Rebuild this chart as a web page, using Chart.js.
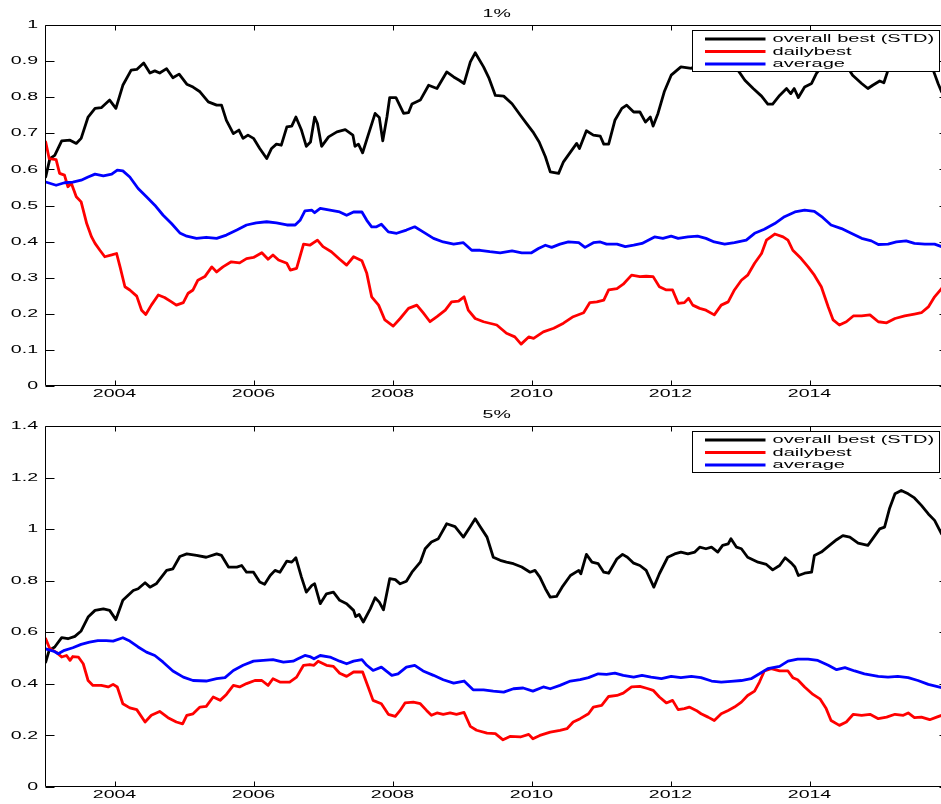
<!DOCTYPE html>
<html>
<head>
<meta charset="utf-8">
<title>Rolling ratios, 1% and 5%</title>
<script src="https://cdn.jsdelivr.net/npm/chart.js@4.4.1/dist/chart.umd.min.js"></script>
<style>
  html, body { margin: 0; padding: 0; background: #ffffff; overflow: hidden; width: 941px; height: 804px; }
  canvas { display: block; }
</style>
</head>
<body>
<canvas id="panel1" width="950" height="400"></canvas>
<canvas id="panel5" width="950" height="404"></canvas>
<script>
// ---- series labels, colours, axis ticks ----
const seriesNames = ['overall best (STD)', 'dailybest', 'average'];
const seriesColors = ['#000000', '#ff0000', '#0000ff'];
const panelTitles = ['1%', '5%'];
const yearTicks = [2004, 2006, 2008, 2010, 2012, 2014];
const yTicks1 = [0, 0.1, 0.2, 0.3, 0.4, 0.5, 0.6, 0.7, 0.8, 0.9, 1];
const yTicks5 = [0, 0.2, 0.4, 0.6, 0.8, 1, 1.2, 1.4];

// ---- 1% panel: [decimal year, value] ----
const best1 = [[2003.01,0.579],[2003.07,0.630],[2003.14,0.639],[2003.24,0.679],[2003.36,0.681],[2003.45,0.672],[2003.52,0.686],[2003.62,0.745],[2003.72,0.769],[2003.81,0.771],[2003.93,0.792],[2004.02,0.769],[2004.12,0.833],[2004.24,0.875],[2004.32,0.877],[2004.42,0.895],[2004.51,0.867],[2004.58,0.873],[2004.65,0.867],[2004.75,0.879],[2004.84,0.854],[2004.93,0.864],[2005.04,0.836],[2005.13,0.828],[2005.23,0.815],[2005.35,0.787],[2005.47,0.778],[2005.54,0.778],[2005.61,0.736],[2005.71,0.699],[2005.79,0.709],[2005.85,0.686],[2005.92,0.695],[2006.00,0.686],[2006.09,0.658],[2006.19,0.630],[2006.26,0.658],[2006.33,0.670],[2006.40,0.667],[2006.48,0.718],[2006.55,0.720],[2006.61,0.745],[2006.69,0.709],[2006.76,0.664],[2006.82,0.676],[2006.88,0.745],[2006.92,0.727],[2006.98,0.664],[2007.08,0.690],[2007.20,0.704],[2007.32,0.710],[2007.43,0.695],[2007.46,0.664],[2007.51,0.670],[2007.57,0.646],[2007.65,0.695],[2007.75,0.755],[2007.81,0.744],[2007.86,0.679],[2007.92,0.745],[2007.96,0.799],[2008.05,0.799],[2008.16,0.755],[2008.23,0.757],[2008.28,0.781],[2008.40,0.792],[2008.52,0.833],[2008.64,0.824],[2008.78,0.870],[2008.88,0.856],[2008.96,0.847],[2009.03,0.838],[2009.12,0.898],[2009.19,0.923],[2009.31,0.884],[2009.39,0.852],[2009.48,0.805],[2009.60,0.803],[2009.72,0.782],[2009.84,0.750],[2009.93,0.727],[2010.02,0.704],[2010.11,0.676],[2010.20,0.635],[2010.27,0.593],[2010.39,0.589],[2010.46,0.621],[2010.56,0.648],[2010.65,0.672],[2010.69,0.658],[2010.79,0.707],[2010.89,0.695],[2010.99,0.692],[2011.04,0.670],[2011.11,0.670],[2011.20,0.736],[2011.30,0.769],[2011.37,0.778],[2011.47,0.759],[2011.56,0.759],[2011.64,0.731],[2011.71,0.745],[2011.75,0.720],[2011.82,0.755],[2011.91,0.815],[2012.01,0.861],[2012.15,0.884],[2012.30,0.880],[2012.45,0.895],[2012.60,0.900],[2012.75,0.895],[2012.97,0.875],[2013.07,0.847],[2013.19,0.824],[2013.31,0.803],[2013.40,0.781],[2013.47,0.781],[2013.57,0.805],[2013.67,0.824],[2013.73,0.810],[2013.78,0.824],[2013.84,0.799],[2013.93,0.828],[2014.03,0.838],[2014.10,0.866],[2014.20,0.890],[2014.35,0.900],[2014.50,0.890],[2014.59,0.870],[2014.62,0.861],[2014.75,0.838],[2014.84,0.824],[2014.91,0.833],[2015.01,0.845],[2015.07,0.840],[2015.13,0.875],[2015.30,0.900],[2015.50,0.910],[2015.70,0.895],[2015.78,0.875],[2015.85,0.838],[2015.90,0.815],[2015.97,0.800]];

const daily1 = [[2003.01,0.676],[2003.06,0.630],[2003.16,0.627],[2003.21,0.589],[2003.28,0.584],[2003.33,0.552],[2003.38,0.561],[2003.45,0.524],[2003.52,0.510],[2003.60,0.450],[2003.67,0.413],[2003.72,0.395],[2003.79,0.376],[2003.86,0.358],[2003.96,0.363],[2004.03,0.367],[2004.08,0.330],[2004.15,0.275],[2004.22,0.266],[2004.32,0.249],[2004.39,0.210],[2004.45,0.198],[2004.53,0.224],[2004.63,0.252],[2004.72,0.245],[2004.82,0.233],[2004.89,0.224],[2004.99,0.231],[2005.06,0.257],[2005.13,0.266],[2005.20,0.293],[2005.30,0.303],[2005.40,0.330],[2005.47,0.316],[2005.56,0.330],[2005.68,0.344],[2005.80,0.341],[2005.90,0.353],[2006.00,0.356],[2006.12,0.369],[2006.21,0.351],[2006.28,0.363],[2006.36,0.349],[2006.48,0.340],[2006.53,0.321],[2006.62,0.326],[2006.72,0.393],[2006.81,0.390],[2006.92,0.404],[2007.00,0.386],[2007.12,0.372],[2007.24,0.351],[2007.34,0.335],[2007.44,0.358],[2007.56,0.347],[2007.63,0.312],[2007.70,0.247],[2007.80,0.224],[2007.89,0.183],[2008.01,0.166],[2008.11,0.187],[2008.23,0.215],[2008.35,0.224],[2008.44,0.203],[2008.54,0.178],[2008.64,0.192],[2008.76,0.210],[2008.85,0.233],[2008.95,0.235],[2009.03,0.247],[2009.09,0.210],[2009.19,0.187],[2009.31,0.178],[2009.50,0.169],[2009.64,0.146],[2009.76,0.136],[2009.85,0.116],[2009.96,0.136],[2010.03,0.132],[2010.17,0.150],[2010.32,0.160],[2010.46,0.174],[2010.60,0.192],[2010.75,0.203],[2010.84,0.231],[2010.94,0.233],[2011.04,0.238],[2011.11,0.266],[2011.23,0.270],[2011.32,0.282],[2011.44,0.307],[2011.56,0.303],[2011.65,0.304],[2011.75,0.303],[2011.84,0.275],[2011.94,0.266],[2012.03,0.266],[2012.11,0.229],[2012.20,0.231],[2012.26,0.243],[2012.32,0.224],[2012.42,0.215],[2012.51,0.210],[2012.63,0.197],[2012.73,0.224],[2012.83,0.233],[2012.92,0.266],[2013.02,0.293],[2013.11,0.307],[2013.21,0.340],[2013.31,0.367],[2013.38,0.404],[2013.50,0.421],[2013.62,0.413],[2013.69,0.404],[2013.76,0.376],[2013.88,0.353],[2013.98,0.330],[2014.07,0.307],[2014.17,0.275],[2014.27,0.219],[2014.34,0.183],[2014.43,0.169],[2014.53,0.178],[2014.63,0.194],[2014.75,0.194],[2014.87,0.197],[2014.99,0.178],[2015.11,0.175],[2015.23,0.187],[2015.37,0.194],[2015.51,0.199],[2015.61,0.203],[2015.71,0.219],[2015.80,0.247],[2015.90,0.270],[2015.97,0.285]];

const avg1 = [[2003.01,0.565],[2003.16,0.556],[2003.28,0.563],[2003.40,0.565],[2003.52,0.570],[2003.62,0.579],[2003.72,0.587],[2003.84,0.582],[2003.96,0.587],[2004.04,0.598],[2004.12,0.596],[2004.22,0.579],[2004.34,0.547],[2004.46,0.524],[2004.58,0.501],[2004.70,0.473],[2004.82,0.450],[2004.94,0.424],[2005.04,0.415],[2005.18,0.409],[2005.32,0.412],[2005.47,0.409],[2005.61,0.418],[2005.76,0.432],[2005.90,0.446],[2006.04,0.452],[2006.19,0.455],[2006.33,0.452],[2006.48,0.446],[2006.60,0.446],[2006.67,0.459],[2006.74,0.485],[2006.84,0.487],[2006.88,0.480],[2006.96,0.492],[2007.10,0.487],[2007.24,0.482],[2007.34,0.473],[2007.44,0.482],[2007.56,0.482],[2007.63,0.459],[2007.70,0.441],[2007.77,0.441],[2007.84,0.448],[2007.94,0.427],[2008.06,0.423],[2008.20,0.432],[2008.32,0.441],[2008.44,0.427],[2008.59,0.409],[2008.73,0.399],[2008.88,0.393],[2009.02,0.397],[2009.14,0.376],[2009.26,0.376],[2009.40,0.372],[2009.55,0.369],[2009.72,0.374],[2009.86,0.369],[2010.00,0.369],[2010.10,0.381],[2010.20,0.390],[2010.29,0.384],[2010.41,0.393],[2010.53,0.399],[2010.68,0.397],[2010.77,0.384],[2010.89,0.397],[2010.99,0.399],[2011.08,0.393],[2011.23,0.393],[2011.35,0.386],[2011.47,0.390],[2011.59,0.395],[2011.77,0.413],[2011.89,0.409],[2012.01,0.415],[2012.11,0.409],[2012.25,0.413],[2012.39,0.415],[2012.51,0.409],[2012.63,0.399],[2012.78,0.393],[2012.92,0.397],[2013.09,0.404],[2013.21,0.423],[2013.35,0.434],[2013.50,0.450],[2013.64,0.469],[2013.79,0.482],[2013.93,0.487],[2014.07,0.484],[2014.19,0.467],[2014.31,0.446],[2014.46,0.436],[2014.60,0.423],[2014.75,0.409],[2014.89,0.402],[2014.99,0.392],[2015.13,0.393],[2015.25,0.399],[2015.39,0.402],[2015.51,0.395],[2015.66,0.393],[2015.80,0.393],[2015.90,0.386],[2015.97,0.385]];

// ---- 5% panel: [decimal year, value] ----
const best5 = [[2003.01,0.484],[2003.06,0.530],[2003.14,0.543],[2003.24,0.579],[2003.33,0.575],[2003.43,0.584],[2003.52,0.605],[2003.62,0.659],[2003.72,0.685],[2003.84,0.691],[2003.93,0.685],[2004.02,0.649],[2004.12,0.724],[2004.27,0.762],[2004.34,0.769],[2004.44,0.792],[2004.51,0.775],[2004.60,0.788],[2004.75,0.840],[2004.84,0.846],[2004.94,0.894],[2005.04,0.904],[2005.18,0.898],[2005.32,0.891],[2005.47,0.904],[2005.54,0.898],[2005.64,0.853],[2005.76,0.853],[2005.83,0.859],[2005.90,0.833],[2006.00,0.833],[2006.09,0.795],[2006.16,0.786],[2006.24,0.820],[2006.31,0.840],[2006.38,0.833],[2006.48,0.876],[2006.55,0.872],[2006.61,0.889],[2006.69,0.814],[2006.76,0.756],[2006.84,0.782],[2006.88,0.788],[2006.96,0.711],[2007.05,0.749],[2007.15,0.756],[2007.24,0.724],[2007.34,0.711],[2007.44,0.685],[2007.47,0.661],[2007.52,0.669],[2007.58,0.640],[2007.68,0.691],[2007.75,0.734],[2007.81,0.717],[2007.87,0.687],[2007.96,0.808],[2008.04,0.804],[2008.11,0.788],[2008.20,0.798],[2008.28,0.833],[2008.40,0.872],[2008.47,0.924],[2008.56,0.950],[2008.66,0.963],[2008.78,1.021],[2008.90,1.010],[2009.02,0.969],[2009.12,1.010],[2009.19,1.040],[2009.26,1.010],[2009.36,0.969],[2009.45,0.891],[2009.55,0.879],[2009.64,0.872],[2009.74,0.866],[2009.86,0.853],[2009.98,0.833],[2010.05,0.840],[2010.12,0.814],[2010.20,0.769],[2010.27,0.736],[2010.36,0.739],[2010.44,0.775],[2010.56,0.820],[2010.68,0.840],[2010.71,0.827],[2010.79,0.902],[2010.87,0.872],[2010.96,0.866],[2011.04,0.833],[2011.11,0.829],[2011.23,0.885],[2011.31,0.902],[2011.38,0.891],[2011.47,0.868],[2011.56,0.859],[2011.65,0.840],[2011.76,0.775],[2011.84,0.827],[2011.96,0.891],[2012.06,0.904],[2012.15,0.911],[2012.25,0.904],[2012.35,0.911],[2012.42,0.930],[2012.51,0.924],[2012.59,0.930],[2012.68,0.911],[2012.75,0.937],[2012.83,0.943],[2012.87,0.963],[2012.95,0.930],[2013.02,0.924],[2013.11,0.891],[2013.26,0.872],[2013.38,0.863],[2013.47,0.842],[2013.57,0.859],[2013.65,0.889],[2013.74,0.868],[2013.79,0.853],[2013.84,0.820],[2013.93,0.829],[2014.03,0.833],[2014.07,0.898],[2014.17,0.911],[2014.27,0.933],[2014.39,0.959],[2014.48,0.975],[2014.58,0.969],[2014.70,0.946],[2014.84,0.937],[2014.91,0.963],[2015.01,1.001],[2015.08,1.008],[2015.15,1.079],[2015.23,1.137],[2015.32,1.150],[2015.42,1.137],[2015.51,1.121],[2015.61,1.092],[2015.71,1.059],[2015.80,1.034],[2015.90,0.982],[2015.97,0.960]];

const daily5 = [[2003.01,0.575],[2003.07,0.536],[2003.16,0.523],[2003.24,0.504],[2003.31,0.510],[2003.36,0.491],[2003.40,0.506],[2003.48,0.504],[2003.55,0.478],[2003.62,0.413],[2003.69,0.394],[2003.81,0.394],[2003.91,0.388],[2003.98,0.398],[2004.04,0.388],[2004.12,0.323],[2004.22,0.307],[2004.32,0.300],[2004.44,0.252],[2004.53,0.278],[2004.65,0.293],[2004.77,0.269],[2004.89,0.252],[2004.98,0.245],[2005.04,0.278],[2005.13,0.284],[2005.23,0.310],[2005.32,0.313],[2005.42,0.349],[2005.52,0.336],[2005.61,0.359],[2005.71,0.394],[2005.80,0.388],[2005.90,0.401],[2006.02,0.413],[2006.12,0.413],[2006.21,0.394],[2006.28,0.420],[2006.38,0.407],[2006.52,0.407],[2006.62,0.426],[2006.72,0.472],[2006.81,0.475],[2006.87,0.472],[2006.93,0.488],[2007.05,0.472],[2007.15,0.468],[2007.24,0.441],[2007.34,0.429],[2007.44,0.446],[2007.57,0.446],[2007.65,0.388],[2007.72,0.336],[2007.84,0.323],[2007.94,0.282],[2008.04,0.274],[2008.11,0.297],[2008.18,0.326],[2008.30,0.329],[2008.40,0.323],[2008.49,0.297],[2008.56,0.278],[2008.64,0.287],[2008.73,0.282],[2008.83,0.287],[2008.92,0.282],[2009.03,0.289],[2009.12,0.235],[2009.21,0.220],[2009.36,0.209],[2009.48,0.207],[2009.59,0.183],[2009.69,0.196],[2009.84,0.194],[2009.96,0.204],[2010.02,0.187],[2010.12,0.200],[2010.27,0.213],[2010.41,0.220],[2010.51,0.226],[2010.60,0.252],[2010.70,0.265],[2010.82,0.284],[2010.89,0.310],[2011.01,0.317],[2011.11,0.351],[2011.23,0.355],[2011.32,0.364],[2011.44,0.388],[2011.56,0.390],[2011.68,0.381],[2011.75,0.375],[2011.84,0.349],[2011.94,0.326],[2012.03,0.336],[2012.11,0.300],[2012.20,0.304],[2012.27,0.310],[2012.37,0.297],[2012.44,0.284],[2012.54,0.271],[2012.63,0.258],[2012.73,0.284],[2012.83,0.297],[2012.92,0.310],[2013.02,0.329],[2013.11,0.355],[2013.21,0.372],[2013.28,0.407],[2013.35,0.450],[2013.45,0.459],[2013.57,0.450],[2013.69,0.450],[2013.76,0.424],[2013.83,0.416],[2013.93,0.388],[2014.05,0.359],[2014.15,0.342],[2014.24,0.304],[2014.31,0.258],[2014.43,0.239],[2014.53,0.252],[2014.63,0.282],[2014.75,0.278],[2014.87,0.282],[2014.99,0.265],[2015.11,0.271],[2015.23,0.282],[2015.35,0.278],[2015.42,0.287],[2015.51,0.269],[2015.61,0.271],[2015.73,0.261],[2015.83,0.271],[2015.90,0.278],[2015.97,0.280]];

const avg5 = [[2003.01,0.536],[2003.12,0.527],[2003.19,0.517],[2003.28,0.530],[2003.40,0.540],[2003.52,0.553],[2003.64,0.562],[2003.76,0.568],[2003.88,0.568],[2003.98,0.566],[2004.12,0.579],[2004.22,0.566],[2004.34,0.543],[2004.46,0.523],[2004.58,0.510],[2004.70,0.484],[2004.84,0.450],[2004.99,0.426],[2005.13,0.413],[2005.32,0.411],[2005.47,0.420],[2005.59,0.424],[2005.71,0.452],[2005.85,0.472],[2006.00,0.488],[2006.14,0.491],[2006.28,0.494],[2006.43,0.484],[2006.57,0.488],[2006.64,0.497],[2006.74,0.510],[2006.81,0.506],[2006.87,0.497],[2006.96,0.510],[2007.10,0.504],[2007.24,0.488],[2007.34,0.478],[2007.44,0.488],[2007.56,0.494],[2007.63,0.472],[2007.72,0.452],[2007.84,0.465],[2007.99,0.433],[2008.08,0.439],[2008.20,0.465],[2008.32,0.472],[2008.44,0.450],[2008.59,0.433],[2008.73,0.416],[2008.88,0.403],[2009.03,0.411],[2009.16,0.377],[2009.31,0.377],[2009.45,0.372],[2009.60,0.368],[2009.74,0.381],[2009.88,0.384],[2010.02,0.372],[2010.17,0.388],[2010.27,0.381],[2010.41,0.394],[2010.56,0.411],[2010.70,0.416],[2010.82,0.424],[2010.96,0.439],[2011.08,0.437],[2011.20,0.442],[2011.32,0.433],[2011.47,0.426],[2011.59,0.433],[2011.72,0.426],[2011.87,0.420],[2012.01,0.429],[2012.15,0.424],[2012.30,0.429],[2012.44,0.424],[2012.59,0.411],[2012.73,0.407],[2012.87,0.410],[2013.02,0.413],[2013.16,0.420],[2013.28,0.439],[2013.40,0.459],[2013.57,0.468],[2013.69,0.488],[2013.83,0.496],[2013.98,0.496],[2014.12,0.491],[2014.27,0.472],[2014.39,0.455],[2014.51,0.463],[2014.65,0.450],[2014.79,0.439],[2014.99,0.429],[2015.13,0.426],[2015.27,0.429],[2015.42,0.424],[2015.56,0.413],[2015.71,0.398],[2015.90,0.385],[2015.97,0.383]];

// ---- styling ----
const FONT_FAMILY = "'Liberation Sans', Arial, Helvetica, sans-serif";
const TEXT_STRETCH = 1.7;   // the figure's lettering is drawn horizontally widened
const LINE_W = 2.8;

Chart.defaults.font.family = FONT_FAMILY;
Chart.defaults.color = '#000000';

// Widen every string drawn on a context about its anchor point,
// and report the widened width so the layout accounts for it.
function widenText(ctx, sx) {
  const fill = ctx.fillText.bind(ctx);
  const measure = ctx.measureText.bind(ctx);
  ctx.fillText = function (t, x, y, maxW) {
    this.save();
    this.translate(x, y);
    this.scale(sx, 1);
    if (maxW === undefined || maxW === null) fill(t, 0, 0);
    else fill(t, 0, 0, maxW / sx);
    this.restore();
  };
  ctx.measureText = function (t) {
    const m = measure(t);
    return {
      width: m.width * sx,
      actualBoundingBoxAscent: m.actualBoundingBoxAscent,
      actualBoundingBoxDescent: m.actualBoundingBoxDescent,
      actualBoundingBoxLeft: m.actualBoundingBoxLeft * sx,
      actualBoundingBoxRight: m.actualBoundingBoxRight * sx,
      fontBoundingBoxAscent: m.fontBoundingBoxAscent,
      fontBoundingBoxDescent: m.fontBoundingBoxDescent
    };
  };
}

// Box frame with inward ticks on all four sides, the panel title and the legend.
const framePlugin = {
  id: 'matFrame',
  afterDatasetsDraw(chart, args, opts) {
    const ctx = chart.ctx;
    const a = chart.chartArea;
    const xs = chart.scales.x, ys = chart.scales.y;
    const L = Math.round(a.left) + 0.5, R = Math.round(a.right) - 0.5;
    const T = Math.round(a.top) + 0.5, B = Math.round(a.bottom) - 0.5;
    ctx.save();
    ctx.strokeStyle = '#000000';
    ctx.lineWidth = 1;
    ctx.beginPath();
    ctx.moveTo(L, T); ctx.lineTo(R, T); ctx.lineTo(R, B); ctx.lineTo(L, B); ctx.closePath();
    xs.ticks.forEach(t => {
      const px = Math.round(xs.getPixelForValue(t.value)) + 0.5;
      ctx.moveTo(px, B); ctx.lineTo(px, B - 5);
      ctx.moveTo(px, T); ctx.lineTo(px, T + 5);
    });
    ys.ticks.forEach(t => {
      const py = Math.round(ys.getPixelForValue(t.value)) + 0.5;
      ctx.moveTo(L, py); ctx.lineTo(L + 9, py);
      ctx.moveTo(R, py); ctx.lineTo(R - 9, py);
    });
    ctx.stroke();

    // title
    ctx.fillStyle = '#000000';
    ctx.font = '11.5px ' + FONT_FAMILY;
    ctx.textAlign = 'center';
    ctx.textBaseline = 'middle';
    ctx.fillText(opts.title, (a.left + a.right) / 2, a.top - 11.5);

    // legend
    const bx = Math.round(a.right - 257) + 0.5;
    const by = Math.round(a.top + 5) + 0.5;
    const bw = 247, bh = 41;
    ctx.fillStyle = '#ffffff';
    ctx.fillRect(bx, by, bw, bh);
    ctx.strokeStyle = '#000000';
    ctx.lineWidth = 1;
    ctx.strokeRect(bx, by, bw, bh);
    const rows = [8.5, 21, 33.5];
    ctx.font = '11.8px ' + FONT_FAMILY;
    ctx.textAlign = 'left';
    ctx.textBaseline = 'middle';
    chart.data.datasets.forEach((ds, i) => {
      const ry = by + rows[i];
      ctx.strokeStyle = ds.borderColor;
      ctx.lineWidth = LINE_W;
      ctx.beginPath();
      ctx.moveTo(bx + 12.5, ry);
      ctx.lineTo(bx + 73, ry);
      ctx.stroke();
      ctx.fillStyle = '#000000';
      ctx.fillText(ds.label, bx + 80, ry);
    });
    ctx.restore();
  }
};

function makePanel(canvasId, title, lists, yMax, yTicks, topPad, xAxisH) {
  const canvas = document.getElementById(canvasId);
  widenText(canvas.getContext('2d'), TEXT_STRETCH);
  return new Chart(canvas, {
    type: 'line',
    data: {
      datasets: lists.map((pts, i) => ({
        label: seriesNames[i],
        data: pts,
        borderColor: seriesColors[i],
        backgroundColor: seriesColors[i],
        borderWidth: LINE_W,
        borderJoinStyle: 'round',
        borderCapStyle: 'round',
        pointRadius: 0,
        tension: 0,
        fill: false,
        order: lists.length - 1 - i
      }))
    },
    options: {
      responsive: false,
      animation: false,
      events: [],
      layout: { padding: { top: topPad, right: 1.5, left: 0, bottom: 0 } },
      plugins: {
        legend: { display: false },
        title: { display: false },
        tooltip: { enabled: false },
        matFrame: { title: title }
      },
      scales: {
        x: {
          type: 'linear',
          min: 2003,
          max: 2016,
          grid: { display: false, drawTicks: false },
          border: { display: false },
          afterBuildTicks: s => { s.ticks = yearTicks.map(v => ({ value: v })); },
          afterFit: s => { s.height = xAxisH; },
          ticks: {
            autoSkip: false,
            maxRotation: 0,
            padding: 1,
            color: '#000000',
            font: { size: 11.5 },
            callback: v => String(v)
          }
        },
        y: {
          type: 'linear',
          min: 0,
          max: yMax,
          grid: { display: false, drawTicks: false },
          border: { display: false },
          afterBuildTicks: s => { s.ticks = yTicks.map(v => ({ value: v })); },
          afterFit: s => { s.width = 45; },
          ticks: {
            autoSkip: false,
            padding: 7,
            color: '#000000',
            font: { size: 11.5 },
            callback: v => String(Number(v.toFixed(1)))
          }
        }
      }
    },
    plugins: [framePlugin]
  });
}

makePanel('panel1', panelTitles[0], [best1, daily1, avg1], 1, yTicks1, 25, 14);
makePanel('panel5', panelTitles[1], [best5, daily5, avg5], 1.4, yTicks5, 26, 17);
</script>
</body>
</html>
